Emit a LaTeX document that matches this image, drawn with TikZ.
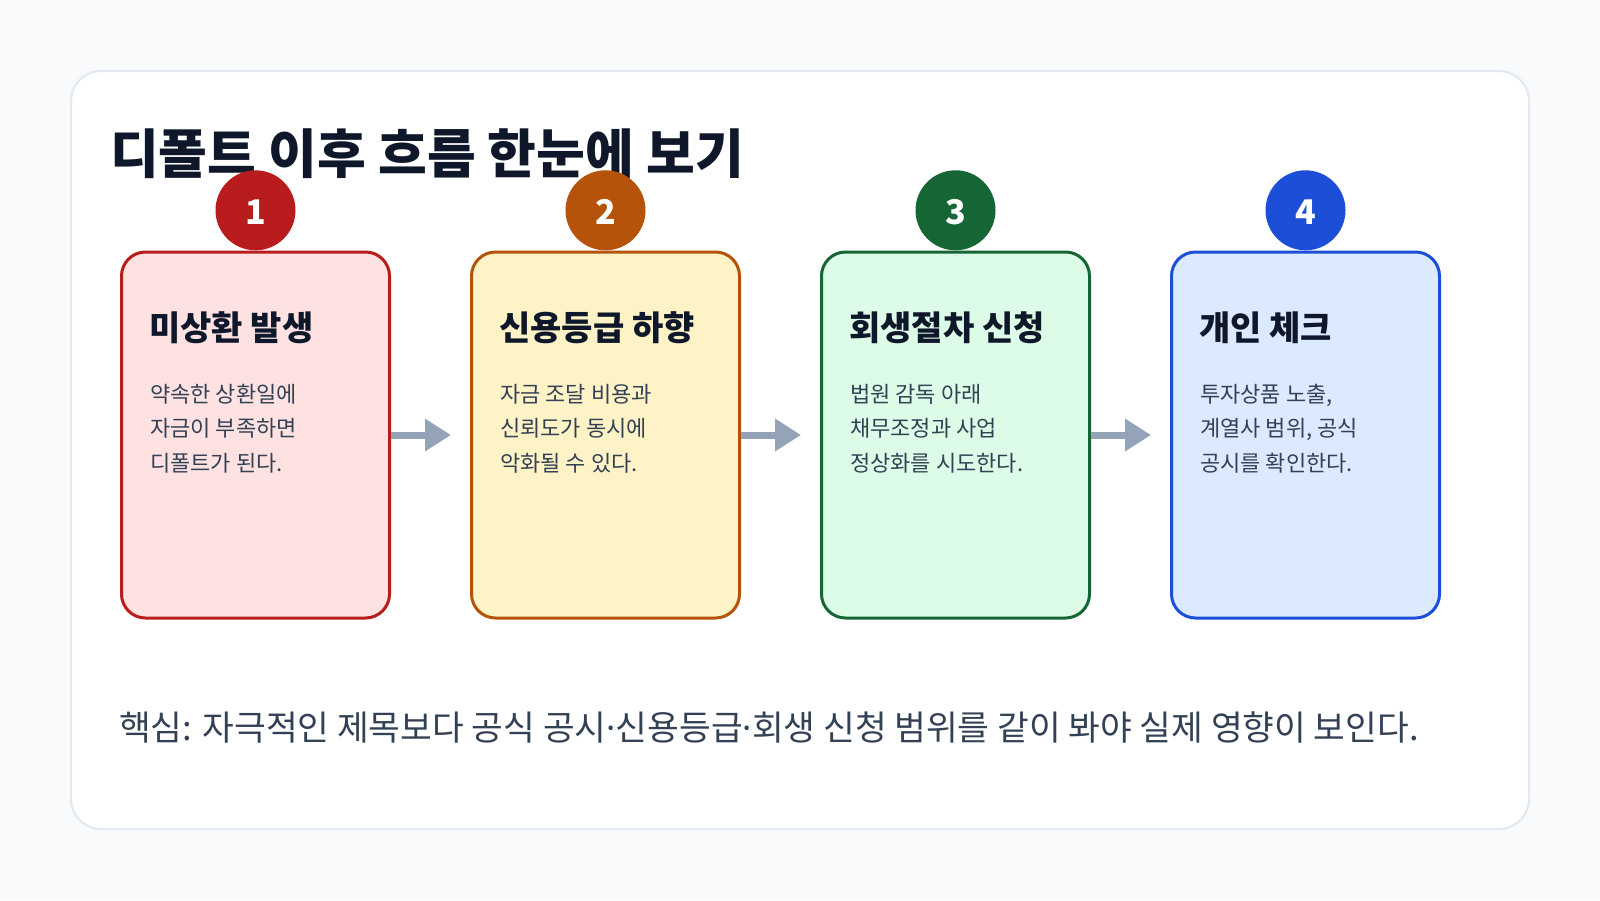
\documentclass[tikz,border=0pt]{standalone}
\usepackage{fontspec}
\setmainfont{Noto Sans CJK KR}
\newfontfamily\dotfont{Noto Sans}
\usepackage{tikz}
\usetikzlibrary{positioning,arrows.meta}
\usepackage{xcolor}
\definecolor{pagebg}{HTML}{F8FAFC}
\definecolor{panelline}{HTML}{E2E8F0}
\definecolor{ink}{HTML}{0F172A}
\definecolor{slate}{HTML}{334155}
\definecolor{flowgray}{HTML}{94A3B8}
\definecolor{redline}{HTML}{B91C1C}
\definecolor{redfill}{HTML}{FEE2E2}
\definecolor{amberline}{HTML}{B45309}
\definecolor{amberfill}{HTML}{FEF3C7}
\definecolor{greenline}{HTML}{166534}
\definecolor{greenfill}{HTML}{DCFCE7}
\definecolor{blueline}{HTML}{1D4ED8}
\definecolor{bluefill}{HTML}{DBEAFE}
\newcommand{\middot}{{\dotfont ·}}
\tikzset{
  panel/.style={draw=panelline, line width=2pt, fill=white, rounded corners=30pt},
  headline/.style={
    anchor=base west, inner sep=0pt, text=ink,
    font=\bfseries\fontsize{53}{62}\selectfont
  },
  card/.style={
    draw, line width=3pt, rounded corners=24pt,
    minimum width=268pt, minimum height=366pt, inner sep=0pt
  },
  badge/.style={
    circle, minimum size=80pt, inner sep=0pt, text=white,
    text height=28pt, text depth=0pt,
    font=\bfseries\fontsize{34}{40}\selectfont
  },
  cardtitle/.style={
    anchor=base west, inner sep=0pt, text=ink,
    font=\bfseries\fontsize{34}{40}\selectfont
  },
  cardtext/.style={
    anchor=base west, inner sep=0pt, align=left, text=slate,
    font=\fontsize{22}{34.5}\selectfont
  },
  note/.style={
    anchor=base west, inner sep=0pt, text=slate,
    font=\fontsize{34.5}{42}\selectfont
  },
  flow/.style={-{Triangle[length=26pt,width=31pt]}, line width=7pt, draw=flowgray}
}
\begin{document}
\begin{tikzpicture}[x=1pt, y=-1pt, node distance=79pt]
  \useasboundingbox (0,0) rectangle (1600,900);
  \fill[pagebg] (0,0) rectangle (1600,900);
  \draw[panel] (71,71) rectangle (1529,829);

  \node[headline] (title) at (110,173) {디폴트 이후 흐름 한눈에 보기};

  \node[card, draw=redline, fill=redfill] (c1) at (255.5,435) {};
  \node[card, draw=amberline, fill=amberfill, right=of c1] (c2) {};
  \node[card, draw=greenline, fill=greenfill, right=of c2] (c3) {};
  \node[card, draw=blueline, fill=bluefill, right=of c3] (c4) {};

  \node[badge, fill=redline, above=0pt of c1] (b1) {1};
  \node[badge, fill=amberline, above=0pt of c2] (b2) {2};
  \node[badge, fill=greenline, above=0pt of c3] (b3) {3};
  \node[badge, fill=blueline, above=0pt of c4] (b4) {4};

  \node[cardtitle] (t1) at ([xshift=29pt, yshift=-89.5pt]c1.north west) {미상환 발생};
  \node[cardtitle] (t2) at ([xshift=29pt, yshift=-89.5pt]c2.north west) {신용등급 하향};
  \node[cardtitle] (t3) at ([xshift=29pt, yshift=-89.5pt]c3.north west) {회생절차 신청};
  \node[cardtitle] (t4) at ([xshift=29pt, yshift=-89.5pt]c4.north west) {개인 체크};

  \node[cardtext] (d1) at ([xshift=30pt, yshift=-220.5pt]c1.north west)
       {약속한 상환일에\\자금이 부족하면\\디폴트가 된다.};
  \node[cardtext] (d2) at ([xshift=30pt, yshift=-220.5pt]c2.north west)
       {자금 조달 비용과\\신뢰도가 동시에\\악화될 수 있다.};
  \node[cardtext] (d3) at ([xshift=30pt, yshift=-220.5pt]c3.north west)
       {법원 감독 아래\\채무조정과 사업\\정상화를 시도한다.};
  \node[cardtext] (d4) at ([xshift=30pt, yshift=-220.5pt]c4.north west)
       {투자상품 노출,\\계열사 범위, 공식\\공시를 확인한다.};

  \draw[flow] (c1.east) -- ([xshift=-19pt]c2.west);
  \draw[flow] (c2.east) -- ([xshift=-19pt]c3.west);
  \draw[flow] (c3.east) -- ([xshift=-19pt]c4.west);

  \node[note] (key) at (119,740)
       {핵심: 자극적인 제목보다 공식 공시\middot 신용등급\middot 회생 신청 범위를 같이 봐야 실제 영향이 보인다.};
\end{tikzpicture}
\end{document}
